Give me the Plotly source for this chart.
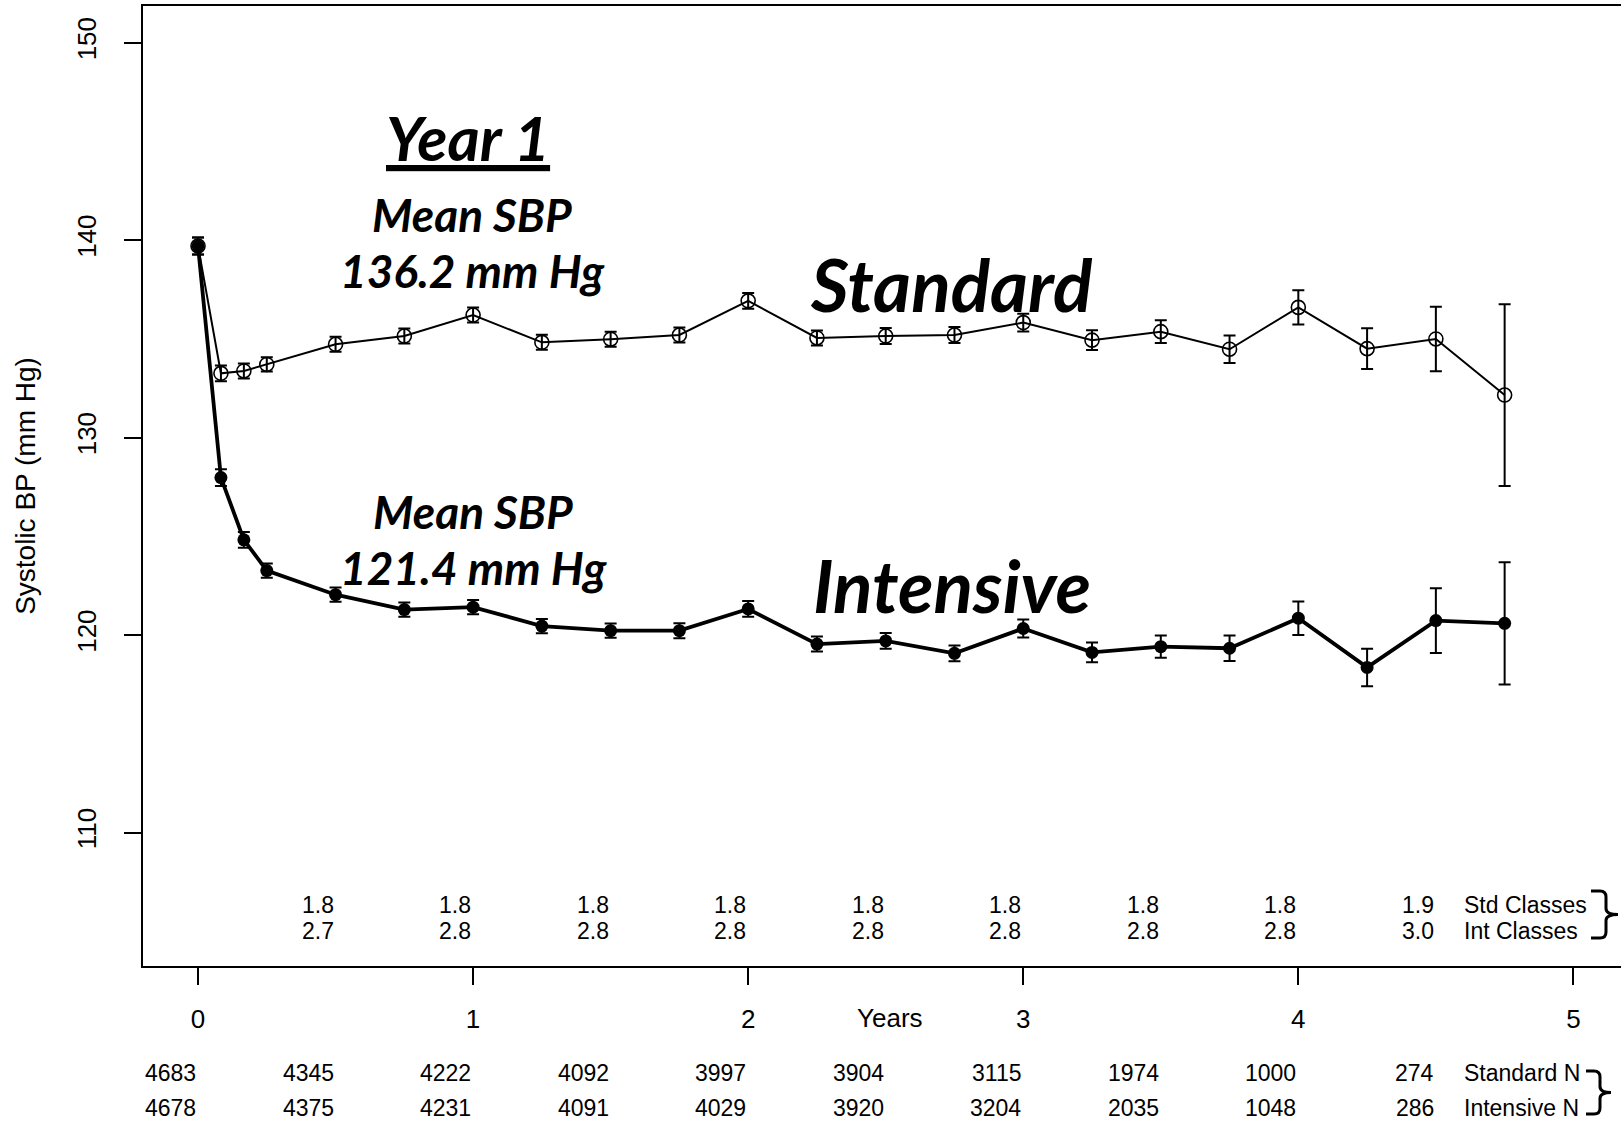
import plotly.graph_objects as go

# ---------------- data ----------------
years = [0, 0.0833, 0.1667, 0.25, 0.5, 0.75, 1.0, 1.25, 1.5, 1.75, 2.0,
         2.25, 2.5, 2.75, 3.0, 3.25, 3.5, 3.75, 4.0, 4.25, 4.5, 4.75]

std_mean = [139.7, 133.25, 133.37, 133.70, 134.72, 135.14, 136.20, 134.82, 134.98, 135.19, 136.92,
            135.04, 135.14, 135.19, 135.82, 134.93, 135.36, 134.47, 136.59, 134.50, 134.99, 132.15]
std_err = [0.43, 0.40, 0.38, 0.36, 0.38, 0.38, 0.38, 0.38, 0.38, 0.38, 0.40,
           0.38, 0.40, 0.40, 0.45, 0.50, 0.58, 0.70, 0.87, 1.03, 1.63, 4.60]

int_mean = [139.7, 127.97, 124.82, 123.26, 122.04, 121.29, 121.41, 120.45, 120.22, 120.22, 121.32,
            119.54, 119.70, 119.07, 120.33, 119.12, 119.41, 119.33, 120.85, 118.36, 120.73, 120.59]
int_err = [0.43, 0.42, 0.40, 0.36, 0.36, 0.36, 0.36, 0.36, 0.36, 0.38, 0.40,
           0.38, 0.40, 0.40, 0.45, 0.50, 0.56, 0.64, 0.85, 0.95, 1.64, 3.10]

class_years = [0.5, 1.0, 1.5, 2.0, 2.5, 3.0, 3.5, 4.0, 4.5]
std_classes = ["1.8", "1.8", "1.8", "1.8", "1.8", "1.8", "1.8", "1.8", "1.9"]
int_classes = ["2.7", "2.8", "2.8", "2.8", "2.8", "2.8", "2.8", "2.8", "3.0"]

n_years = [0, 0.5, 1.0, 1.5, 2.0, 2.5, 3.0, 3.5, 4.0, 4.5]
std_n = ["4683", "4345", "4222", "4092", "3997", "3904", "3115", "1974", "1000", "274"]
int_n = ["4678", "4375", "4231", "4091", "4029", "3920", "3204", "2035", "1048", "286"]

x_ticks = [0, 1, 2, 3, 4, 5]
y_ticks = [110, 120, 130, 140, 150]

# ---------------- layout geometry ----------------
W, H = 1621, 1122
L, R, T, B = 143, 0, 6, 156
PW, PH = W - L - R, H - T - B

def px(x):
    return (x - L) / PW

def py(y):
    return (H - B - y) / PH

ARIAL = "Liberation Sans"
CAL = "Lato"

fig = go.Figure()

fig.add_trace(go.Scatter(
    x=years, y=std_mean, mode="lines+markers", name="Standard",
    line=dict(color="black", width=2),
    marker=dict(symbol="circle-open", size=14, color="black", line=dict(width=1.6, color="black")),
    error_y=dict(type="data", array=std_err, visible=True, color="black", thickness=2, width=6),
))
fig.add_trace(go.Scatter(
    x=years, y=int_mean, mode="lines+markers", name="Intensive",
    line=dict(color="black", width=3.8),
    marker=dict(symbol="circle", size=13, color="black"),
    error_y=dict(type="data", array=int_err, visible=True, color="black", thickness=2, width=6),
))

ann = []
# big labels
def big(text, x, y, size):
    ann.append(dict(text=text, x=px(x), y=py(y), xref="paper", yref="paper",
                    showarrow=False, xanchor="center", yanchor="middle",
                    font=dict(family=CAL, size=size, color="black", weight="bold", style="italic")))

big("<u>Year 1</u>", 468, 137, 62)
big("Mean SBP", 472, 214, 46)
big("136.2 mm Hg", 472, 270, 46)
big("Mean SBP", 473, 511, 46)
big("121.4 mm Hg", 473, 567, 46)
big("Standard", 952, 284, 73)
big("Intensive", 952, 585, 73)

FS = 23
# classes rows
for t, s in zip(class_years, std_classes):
    ann.append(dict(text=s, x=t, y=py(905), xref="x", yref="paper", showarrow=False,
                    xanchor="right", yanchor="middle", font=dict(family=ARIAL, size=FS, color="black")))
for t, s in zip(class_years, int_classes):
    ann.append(dict(text=s, x=t, y=py(931), xref="x", yref="paper", showarrow=False,
                    xanchor="right", yanchor="middle", font=dict(family=ARIAL, size=FS, color="black")))
ann.append(dict(text="Std Classes", x=px(1462), y=py(905), xref="paper", yref="paper", showarrow=False,
                xanchor="left", yanchor="middle", font=dict(family=ARIAL, size=FS, color="black")))
ann.append(dict(text="Int Classes", x=px(1462), y=py(931), xref="paper", yref="paper", showarrow=False,
                xanchor="left", yanchor="middle", font=dict(family=ARIAL, size=FS, color="black")))

# N rows
for t, s in zip(n_years, std_n):
    ann.append(dict(text=s, x=t, y=py(1073), xref="x", yref="paper", showarrow=False,
                    xanchor="right", yanchor="middle", font=dict(family=ARIAL, size=FS, color="black")))
for t, s in zip(n_years, int_n):
    ann.append(dict(text=s, x=t, y=py(1108), xref="x", yref="paper", showarrow=False,
                    xanchor="right", yanchor="middle", font=dict(family=ARIAL, size=FS, color="black")))
ann.append(dict(text="Standard N", x=px(1462), y=py(1073), xref="paper", yref="paper", showarrow=False,
                xanchor="left", yanchor="middle", font=dict(family=ARIAL, size=FS, color="black")))
ann.append(dict(text="Intensive N", x=px(1462), y=py(1108), xref="paper", yref="paper", showarrow=False,
                xanchor="left", yanchor="middle", font=dict(family=ARIAL, size=FS, color="black")))

# Years label
ann.append(dict(text="Years", x=px(890), y=py(1018), xref="paper", yref="paper", showarrow=False,
                xanchor="center", yanchor="middle", font=dict(family=ARIAL, size=26, color="black")))

def brace(x0, xv, xt, y0, y1):
    ym = (y0 + y1) / 2
    r = 6
    pts = (f"M {px(x0)},{py(y0)} L {px(xv - r)},{py(y0)} Q {px(xv)},{py(y0)} {px(xv)},{py(y0 + r)} "
           f"L {px(xv)},{py(ym - r)} Q {px(xv)},{py(ym)} {px(xt)},{py(ym)} "
           f"Q {px(xv)},{py(ym)} {px(xv)},{py(ym + r)} L {px(xv)},{py(y1 - r)} "
           f"Q {px(xv)},{py(y1)} {px(xv - r)},{py(y1)} L {px(x0)},{py(y1)}")
    return dict(type="path", path=pts, xref="paper", yref="paper",
                line=dict(color="black", width=3))

shapes = [brace(1591, 1606, 1618, 891, 938), brace(1586, 1600, 1611, 1071, 1114)]

fig.update_layout(
    width=W, height=H, autosize=False,
    margin=dict(l=L, r=R, t=T, b=B, pad=0),
    paper_bgcolor="white", plot_bgcolor="white",
    showlegend=False,
    annotations=ann, shapes=shapes,
    font=dict(family=ARIAL, color="black"),
)
fig.update_xaxes(
    range=[-0.2, 5.173], tickvals=x_ticks, ticktext=[str(v) for v in x_ticks],
    showline=True, linecolor="black", linewidth=2, mirror=True,
    ticks="outside", ticklen=17, tickwidth=2, tickcolor="black",
    showgrid=False, zeroline=False,
    tickfont=dict(family=ARIAL, size=26, color="black"), ticklabelstandoff=12,
)
fig.update_yaxes(
    range=[103.24, 151.85], tickvals=y_ticks, ticktext=[str(v) for v in y_ticks],
    showline=True, linecolor="black", linewidth=2, mirror=False,
    ticks="outside", ticklen=17, tickwidth=2, tickcolor="black",
    showgrid=False, zeroline=False, tickangle=-90,
    tickfont=dict(family=ARIAL, size=26, color="black"), ticklabelstandoff=18,
    title=dict(text="Systolic BP (mm Hg)", font=dict(family=ARIAL, size=28, color="black"), standoff=28),
)

fig.write_html("out.html", config={"displayModeBar": False},
               post_script="document.body.style.margin='0px';document.body.style.overflow='hidden';")
